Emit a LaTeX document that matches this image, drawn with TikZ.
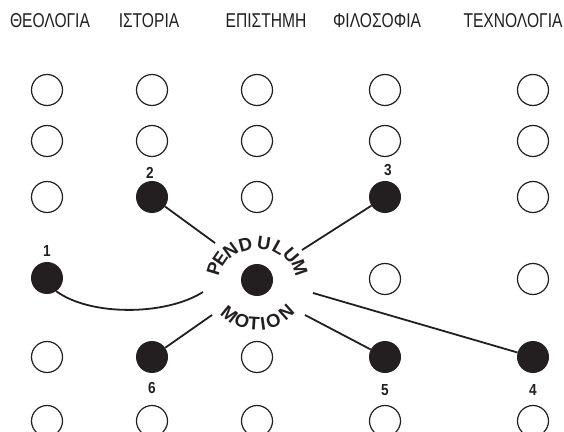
\documentclass[tikz,border=0pt]{standalone}
\usepackage{fontspec}
\setmainfont{Liberation Sans}
\newfontfamily\headfont{Liberation Sans}[FakeStretch=0.78]
\newfontfamily\numfont{Liberation Sans}[FakeStretch=0.85]
\definecolor{ink}{RGB}{35,31,32}
\begin{document}
\begin{tikzpicture}[x=1pt,y=1pt,
  hole/.style={circle,draw=ink,line width=1.2pt,minimum size=31pt,inner sep=0pt},
  bead/.style={circle,fill=ink,minimum size=32pt,inner sep=0pt},
  head/.style={font=\headfont\fontsize{20}{20}\selectfont,anchor=base,text=ink,inner sep=0pt},
  num/.style={font=\numfont\bfseries\fontsize{16}{16}\selectfont,text=ink,inner sep=0pt},
  arcletter/.style={font=\bfseries\fontsize{18.5}{18.5}\selectfont,text=ink,inner sep=0pt},
  link/.style={draw=ink,line width=1.8pt}]
\useasboundingbox (0,0) rectangle (564,431);

% column headings
\node[head] (h1) at (50,403)  {ΘΕΟΛΟΓΙΑ};
\node[head] (h2) at (149,403) {ΙΣΤΟΡΙΑ};
\node[head] (h3) at (266,403) {ΕΠΙΣΤΗΜΗ};
\node[head] (h4) at (377,403) {ΦΙΛΟΣΟΦΙΑ};
\node[head] (h5) at (513,403) {ΤΕΧΝΟΛΟΓΙΑ};

% full rows of open circles
\foreach \x [count=\i] in {47,152,257,385,533} {
  \node[hole] (a\i) at (\x,341) {};
  \node[hole] (b\i) at (\x,290) {};
  \node[hole] (f\i) at (\x,10)  {};
}
% remaining open circles
\node[hole] (c1) at (47,234)  {};
\node[hole] (c3) at (257,234) {};
\node[hole] (c5) at (533,234) {};
\node[hole] (r4) at (385,152) {};
\node[hole] (r5) at (533,152) {};
\node[hole] (e1) at (47,74)   {};
\node[hole] (e3) at (257,74)  {};

% filled beads
\node[bead] (d1) at (47,153)  {};
\node[bead] (d2) at (152,234) {};
\node[bead] (d3) at (385,234) {};
\node[bead] (dc) at (257,151) {};
\node[bead] (d6) at (152,74)  {};
\node[bead] (d5) at (385,74)  {};
\node[bead] (d4) at (533,74)  {};

% bead numbers
\node[num] (n1) at (47,180)  {1};
\node[num] (n2) at (150,258) {2};
\node[num] (n3) at (388,261) {3};
\node[num] (n6) at (152,43)  {6};
\node[num] (n5) at (385,41)  {5};
\node[num] (n4) at (533,41)  {4};

% lettering curved round the centre bead: outward above, inward below
\foreach \ch/\a [count=\i] in {P/163,E/145,N/126,D/105,U/81,L/61,U/41,M/19}
  \node[arcletter,rotate=\a-90] (up\i) at ({257+45*cos(\a)},{151+37*sin(\a)}) {\ch};
\foreach \ch/\a [count=\i] in {M/231,O/250,T/266,I/278,O/292,N/312}
  \node[arcletter,rotate=\a+90] (lo\i) at ({257+44*cos(\a)},{151+44*sin(\a)}) {\ch};

% free ends of the connectors, next to the lettering
\coordinate (p1) at (203,139);
\coordinate (p2) at (215,188);
\coordinate (p3) at (302,181);
\coordinate (p6) at (212,116);
\coordinate (p5) at (305,116);
\coordinate (p4) at (313,138);

\draw[link] (d1.-55) .. controls (90,115) and (165,115) .. (p1);
\draw[link] (d2) -- (p2);
\draw[link] (d3) -- (p3);
\draw[link] (d6) -- (p6);
\draw[link] (d5) -- (p5);
\draw[link] (d4) -- (p4);
\end{tikzpicture}
\end{document}
